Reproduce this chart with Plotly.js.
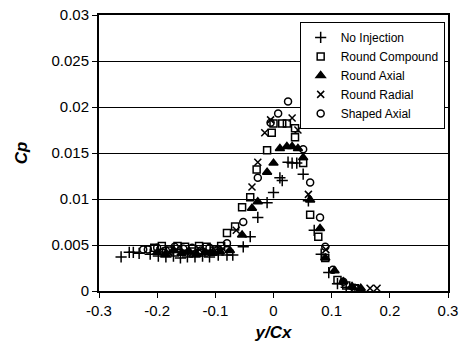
<!DOCTYPE html>
<html><head><meta charset="utf-8">
<script src="https://cdn.plot.ly/plotly-3.0.1.min.js"></script>
<style>html,body{margin:0;padding:0;background:#fff}#c{width:460px;height:356px}</style>
</head><body><div id="c"></div>
<script>
const xTickVals = [-0.3,-0.2,-0.1,0,0.1,0.2,0.3];
const xTickText = ['-0.3','-0.2','-0.1','0','0.1','0.2','0.3'];

const noInjX = [-0.262,-0.248,-0.241,-0.231,-0.212,-0.198,-0.185,-0.172,-0.16,-0.148,-0.135,-0.122,-0.11,-0.095,-0.08,-0.07,-0.052,-0.04,-0.027,-0.011,0.0,0.011,0.015,0.025,0.032,0.04,0.051,0.06,0.07,0.082,0.095,0.11,0.125,0.14];
const noInjY = [0.0037,0.0042,0.0042,0.0041,0.0040,0.0038,0.0037,0.0038,0.0036,0.0037,0.0037,0.0038,0.0037,0.0039,0.0039,0.0039,0.0048,0.0059,0.0080,0.0096,0.0107,0.0123,0.0120,0.0140,0.0139,0.0139,0.0127,0.0098,0.0066,0.0040,0.0020,0.0008,0.0004,0.0002];

const rcX = [-0.205,-0.192,-0.178,-0.165,-0.152,-0.14,-0.128,-0.115,-0.102,-0.09,-0.08,-0.066,-0.054,-0.04,-0.029,-0.011,-0.003,0.0,0.015,0.023,0.037,0.037,0.051,0.063,0.077,0.089,0.11,0.125,0.14];
const rcY = [0.0047,0.0049,0.0044,0.0049,0.0048,0.0043,0.0049,0.0048,0.0044,0.0049,0.0063,0.0070,0.0091,0.0102,0.0132,0.0153,0.0172,0.0182,0.0182,0.0182,0.0177,0.0167,0.0139,0.0083,0.0059,0.0036,0.0012,0.0006,0.0003];

const raX = [-0.2,-0.186,-0.172,-0.158,-0.145,-0.132,-0.118,-0.105,-0.092,-0.075,-0.054,-0.037,-0.027,-0.011,0.0,0.011,0.023,0.032,0.042,0.051,0.063,0.08,0.089,0.105,0.12,0.135,0.15];
const raY = [0.0042,0.0040,0.0044,0.0041,0.0043,0.0040,0.0042,0.0041,0.0043,0.0044,0.0061,0.0090,0.0097,0.0129,0.0139,0.0155,0.0157,0.0157,0.0155,0.0145,0.0099,0.0068,0.0036,0.0022,0.0010,0.0005,0.0003];

const rrX = [-0.195,-0.18,-0.167,-0.153,-0.14,-0.127,-0.113,-0.1,-0.087,-0.064,-0.037,-0.027,-0.015,-0.005,0.032,0.042,0.06,0.09,0.166,0.178];
const rrY = [0.0044,0.0042,0.0045,0.0043,0.0041,0.0045,0.0042,0.0044,0.0046,0.0066,0.0113,0.0140,0.0172,0.0186,0.0188,0.0175,0.0105,0.0045,0.0003,0.0003];

const saX = [-0.224,-0.216,-0.2,-0.185,-0.17,-0.155,-0.14,-0.125,-0.11,-0.095,-0.08,-0.052,-0.027,-0.005,0.008,0.025,0.051,0.063,0.08,0.089,0.102,0.12,0.14];
const saY = [0.0045,0.0045,0.0047,0.0044,0.0048,0.0046,0.0047,0.0044,0.0047,0.0045,0.0052,0.0075,0.0123,0.0183,0.0193,0.0206,0.0154,0.0118,0.0080,0.0048,0.0023,0.0010,0.0003];

const names = ['No Injection','Round Compound','Round Axial','Round Radial','Shaped Axial'];
const symbols = ['cross-thin-open','square-open','triangle-up','x-thin-open','circle-open'];
const sizes = [8,7,8,7,7];
const xs = [noInjX, rcX, raX, rrX, saX];
const ys = [noInjY, rcY, raY, rrY, saY];

const data = names.map((n,i)=>({
  type:'scatter', mode:'markers', name:n, x:xs[i], y:ys[i],
  marker:{symbol:symbols[i], size:sizes[i], color:'#000', line:{color:'#000', width:1.5}}
}));

const layout = {
  width:460, height:356,
  margin:{l:99, r:12, t:15, b:65},
  paper_bgcolor:'#fff', plot_bgcolor:'#fff',
  font:{family:'Liberation Sans, Arial, sans-serif', color:'#000', size:15},
  showlegend:true,
  legend:{x:0.575, y:0.975, xanchor:'left', yanchor:'top', bgcolor:'#fff', bordercolor:'#000', borderwidth:1,
    font:{size:12}, tracegroupgap:0, itemwidth:30},
  xaxis:{range:[-0.3,0.3], tickmode:'array', tickvals:xTickVals, ticktext:xTickText, showgrid:false, zeroline:false, showline:true, linecolor:'#000', linewidth:2, mirror:true,
    ticks:'outside', ticklen:5, tickcolor:'#000', tickwidth:1,
    title:{text:'<b><i>y/Cx</i></b>', font:{size:17}, standoff:8}},
  yaxis:{range:[0,0.03], dtick:0.005, showgrid:true, gridcolor:'#000', gridwidth:1, zeroline:false, showline:true, linecolor:'#000', linewidth:2, mirror:true,
    ticks:'outside', ticklen:5, tickcolor:'#000', tickwidth:1,
    title:{text:'<b><i>Cp</i></b>', font:{size:17}, standoff:20}}
};
Plotly.newPlot('c', data, layout, {displayModeBar:false, staticPlot:true});
</script></body></html>
